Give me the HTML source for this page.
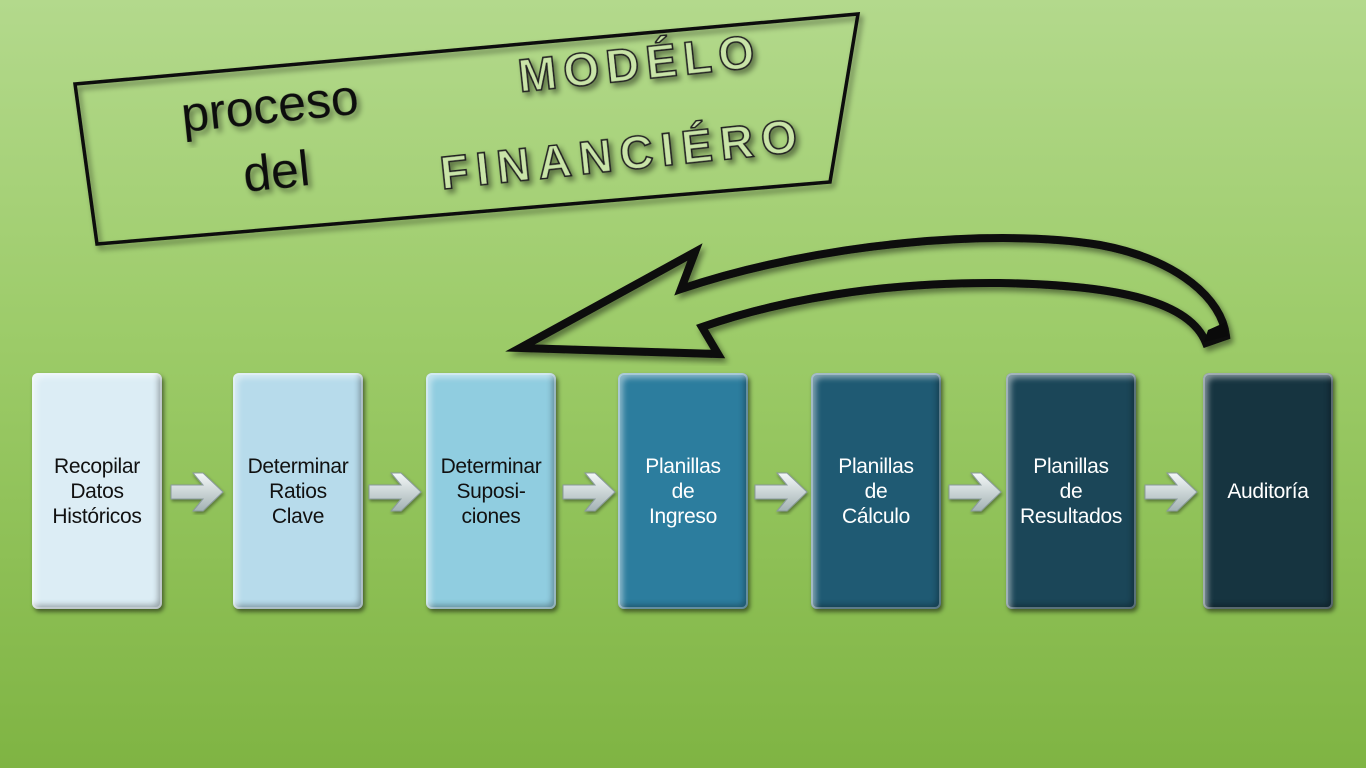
<!DOCTYPE html>
<html><head><meta charset="utf-8"><style>
body{margin:0;width:1366px;height:768px;overflow:hidden;background:linear-gradient(#b3d98c,#9ccb68 45%,#7fb443);font-family:"Liberation Sans",sans-serif;position:relative}
.b{position:absolute;top:373px;width:130px;height:236px;border-radius:6px;box-shadow:2px 3px 4px rgba(0,0,0,.5),inset 0 0 0 2px rgba(255,255,255,.3),inset 5px 5px 6px rgba(255,255,255,.45),inset -4px -4px 6px rgba(0,0,0,.3);display:flex;align-items:center;justify-content:center;text-align:center;font-size:21px;line-height:25px;color:#fff;letter-spacing:-0.3px}
.d{color:#111}
</style></head><body>
<svg width="1366" height="768" style="position:absolute;left:0;top:0">
<defs><filter id="s"><feDropShadow dx="3" dy="4" stdDeviation="3" flood-opacity=".45"/></filter></defs>
<polygon points="75,84 858,14 830,182 97,244" fill="none" stroke="#111" stroke-width="3.5" filter="url(#s)"/>
<text x="183" y="132" font-size="50" fill="#111" font-family="Liberation Sans" transform="rotate(-6 183 132)" filter="url(#s)">proceso</text>
<text x="245" y="192" font-size="50" fill="#111" font-family="Liberation Sans" transform="rotate(-6 245 192)" filter="url(#s)">del</text>
<text x="520" y="92" font-size="46" font-weight="bold" fill="#c9e4a8" stroke="#222" stroke-width="1.6" letter-spacing="7" font-family="Liberation Sans" transform="rotate(-6 520 92)" filter="url(#s)">MODÉLO</text>
<text x="442" y="189" font-size="46" font-weight="bold" fill="#c9e4a8" stroke="#222" stroke-width="1.6" letter-spacing="8" font-family="Liberation Sans" transform="rotate(-6 442 189)" filter="url(#s)">FINANCIÉRO</text>
<path d="M520,348 L695,252 L681,289 C820,242 1000,228 1100,245 C1180,260 1222,300 1226,336 L1206,343 C1190,302 1120,285 1000,283 C880,282 780,300 702,327 L718,354 Z" fill="none" stroke="#0a0a0a" stroke-width="8" stroke-linejoin="miter" filter="url(#s)"/>
<path d="M1204,342 L1228,336 L1226,322 L1208,330 Z" fill="#0a0a0a"/>
</svg>
<div class="b d" style="left:32px;background:#dcedf5">Recopilar<br>Datos<br>Históricos</div>
<div class="b d" style="left:233px;background:#b7dbeb">Determinar<br>Ratios<br>Clave</div>
<div class="b d" style="left:426px;background:#90cde0">Determinar<br>Suposi-<br>ciones</div>
<div class="b" style="left:618px;background:#2c7d9e">Planillas<br>de<br>Ingreso</div>
<div class="b" style="left:811px;background:#1f5a73">Planillas<br>de<br>Cálculo</div>
<div class="b" style="left:1006px;background:#1b4658">Planillas<br>de<br>Resultados</div>
<div class="b" style="left:1203px;background:#163440">Auditoría</div>
<svg width="1366" height="768" style="position:absolute;left:0;top:0">
<defs><linearGradient id="g2" x1="0" y1="0" x2="0" y2="1"><stop offset="0" stop-color="#f4f8f8"/><stop offset="1" stop-color="#a3b2b4"/></linearGradient>
<filter id="s2"><feDropShadow dx="1" dy="2" stdDeviation="1.5" flood-opacity=".4"/></filter></defs>
<g fill="url(#g2)" stroke="#8a9a9c" stroke-width="1" filter="url(#s2)">
<path transform="translate(171,492)" d="M0,-7 L32,-7 L22,-19 L32,-19 L52,0 L32,19 L22,19 L32,7 L0,7 Z"/>
<path transform="translate(369,492)" d="M0,-7 L32,-7 L22,-19 L32,-19 L52,0 L32,19 L22,19 L32,7 L0,7 Z"/>
<path transform="translate(563,492)" d="M0,-7 L32,-7 L22,-19 L32,-19 L52,0 L32,19 L22,19 L32,7 L0,7 Z"/>
<path transform="translate(755,492)" d="M0,-7 L32,-7 L22,-19 L32,-19 L52,0 L32,19 L22,19 L32,7 L0,7 Z"/>
<path transform="translate(949,492)" d="M0,-7 L32,-7 L22,-19 L32,-19 L52,0 L32,19 L22,19 L32,7 L0,7 Z"/>
<path transform="translate(1145,492)" d="M0,-7 L32,-7 L22,-19 L32,-19 L52,0 L32,19 L22,19 L32,7 L0,7 Z"/>
</g>
</svg>
</body></html>
